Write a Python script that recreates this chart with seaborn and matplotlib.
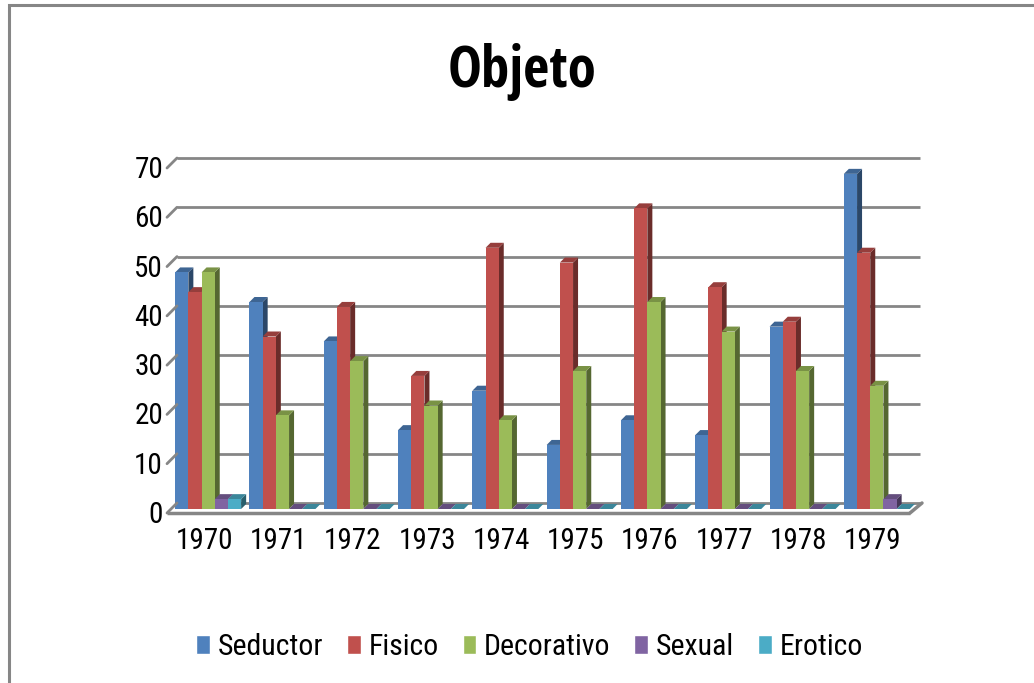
import numpy as np
import matplotlib
matplotlib.use("Agg")
import matplotlib.pyplot as plt
import pandas as pd
import seaborn as sns
from matplotlib.patches import Polygon, Rectangle
from matplotlib.transforms import ScaledTranslation

years = ["1970", "1971", "1972", "1973", "1974", "1975", "1976", "1977", "1978", "1979"]
seductor = [48, 42, 34, 16, 24, 13, 18, 15, 37, 68]
fisico = [44, 35, 41, 27, 53, 50, 61, 45, 38, 52]
decorativo = [48, 19, 30, 21, 18, 28, 42, 36, 28, 25]
sexual = [2, 0, 0, 0, 0, 0, 0, 0, 0, 2]
erotico = [2, 0, 0, 0, 0, 0, 0, 0, 0, 0]
series_names = ["Seductor", "Fisico", "Decorativo", "Sexual", "Erotico"]
colours = ["#4F81BD", "#C0504D", "#9BBB59", "#8064A2", "#4BACC6"]
y_ticks = [0, 10, 20, 30, 40, 50, 60, 70]

W, H = 1034, 683
DPI = 100
FONT = ["Roboto Condensed", "Open Sans Condensed", "DejaVu Sans"]
GREY = "#868686"

sns.set_theme(style="white")
plt.rcParams["font.family"] = FONT

df = pd.DataFrame({"year": years, "Seductor": seductor, "Fisico": fisico,
                   "Decorativo": decorativo, "Sexual": sexual, "Erotico": erotico})
df = df.melt(id_vars="year", var_name="serie", value_name="valor")

fig = plt.figure(figsize=(W / DPI, H / DPI), dpi=DPI)
# the axes box is the plane of the bars' front faces
left, right, top, bottom = 171, 914, 164, 509
ax = fig.add_axes([left / W, 1 - bottom / H, (right - left) / W, (bottom - top) / H])

sns.barplot(data=df, x="year", y="valor", hue="serie", hue_order=series_names,
            palette=colours, saturation=1, width=0.888, gap=0, errorbar=None,
            ax=ax, zorder=5)

ax.set_xlim(-0.5, 9.5)
ax.set_ylim(0, 70)
ax.set_xlabel("")
ax.set_ylabel("")
ax.patch.set_alpha(0)
for s in ax.spines.values():
    s.set_visible(False)
ax.set_yticks(y_ticks)
ax.tick_params(left=False, bottom=False)
ax.set_yticklabels([])
ax.set_xticklabels([])

px_x = 10 / (right - left)
px_y = 70 / (bottom - top)


def shifted(dx, dy):
    # move something by screen pixels (dy positive = up)
    return ax.transData + ScaledTranslation(dx / DPI, dy / DPI, fig.dpi_scale_trans)


# back wall gridlines, side ticks and floor
back = (6, 6)
front = (-4, -4)
ax.hlines(y_ticks, -0.5, 9.5, colors=GREY, linewidth=2, zorder=1, transform=shifted(*back), clip_on=False)
ax.hlines(y_ticks[0], -0.5, 9.5, colors=GREY, linewidth=2.5, zorder=1, transform=shifted(*front), clip_on=False)
for v in y_ticks:
    fx, fy = ax.transData.transform((-0.5, v))
    fig.add_artist(plt.Line2D([(fx + front[0]) / W, (fx + back[0]) / W], [(fy + front[1]) / H, (fy + back[1]) / H],
                              color=GREY, linewidth=2, zorder=1))
fx, fy = ax.transData.transform((9.5, 0))
fig.add_artist(plt.Line2D([(fx + front[0]) / W, (fx + back[0] + 2) / W], [(fy + front[1]) / H, (fy + back[1]) / H],
                          color=GREY, linewidth=2.5, zorder=1))

# side and top faces of every bar, taken from the bars seaborn drew
dx, dy = 5 * px_x, 5 * px_y
for k, container in enumerate(ax.containers):
    rgb = np.array(matplotlib.colors.to_rgb(colours[k]))
    for bar in container:
        x0, w, h = bar.get_x(), bar.get_width(), bar.get_height()
        bar.set_zorder(5 + k)
        bar.set_edgecolor("none")
        if h > 0:
            ax.add_patch(Polygon([(x0 + w, 0), (x0 + w + dx, dy), (x0 + w + dx, h + dy), (x0 + w, h)],
                                 facecolor=rgb * 0.55, edgecolor="none", zorder=4.5 + k, clip_on=False))
        ax.add_patch(Polygon([(x0, h), (x0 + dx, h + dy), (x0 + w + dx, h + dy), (x0 + w, h)],
                             facecolor=rgb * 0.78, edgecolor="none", zorder=4.5 + k, clip_on=False))

# tick labels
for v in y_ticks:
    x, y = ax.transData.transform((-0.5, v))
    fig.text((x - 8) / W, (y - 6) / H, str(v), ha="right", va="center", fontsize=21, color="black")
for i, year in enumerate(years):
    x, _ = ax.transData.transform((i, 0))
    fig.text((x - 4) / W, 1 - 541 / H, year, ha="center", va="center", fontsize=21, color="black")

fig.text(522 / W, 1 - 72 / H, "Objeto", ha="center", va="center", fontsize=41, fontweight="bold",
         family=["Open Sans Condensed", "DejaVu Sans"], color="black")

handles, labels = ax.get_legend_handles_labels()
ax.legend_.remove()
leg = fig.legend(handles, labels, ncol=5, loc="center", bbox_to_anchor=(529.5 / W, 1 - 647 / H),
                 frameon=False, fontsize=21.5, handlelength=0.46, handleheight=0.6,
                 handletextpad=0.26, columnspacing=0.8, labelcolor="black")

# chart frame, runs off the right and bottom of the picture
fig.add_artist(Rectangle((8.5 / W, -0.05), 1.1, 1.05 - 5.5 / H, transform=fig.transFigure,
                         facecolor="none", edgecolor=GREY, linewidth=2.2))

fig.savefig("out.png", dpi=DPI)
